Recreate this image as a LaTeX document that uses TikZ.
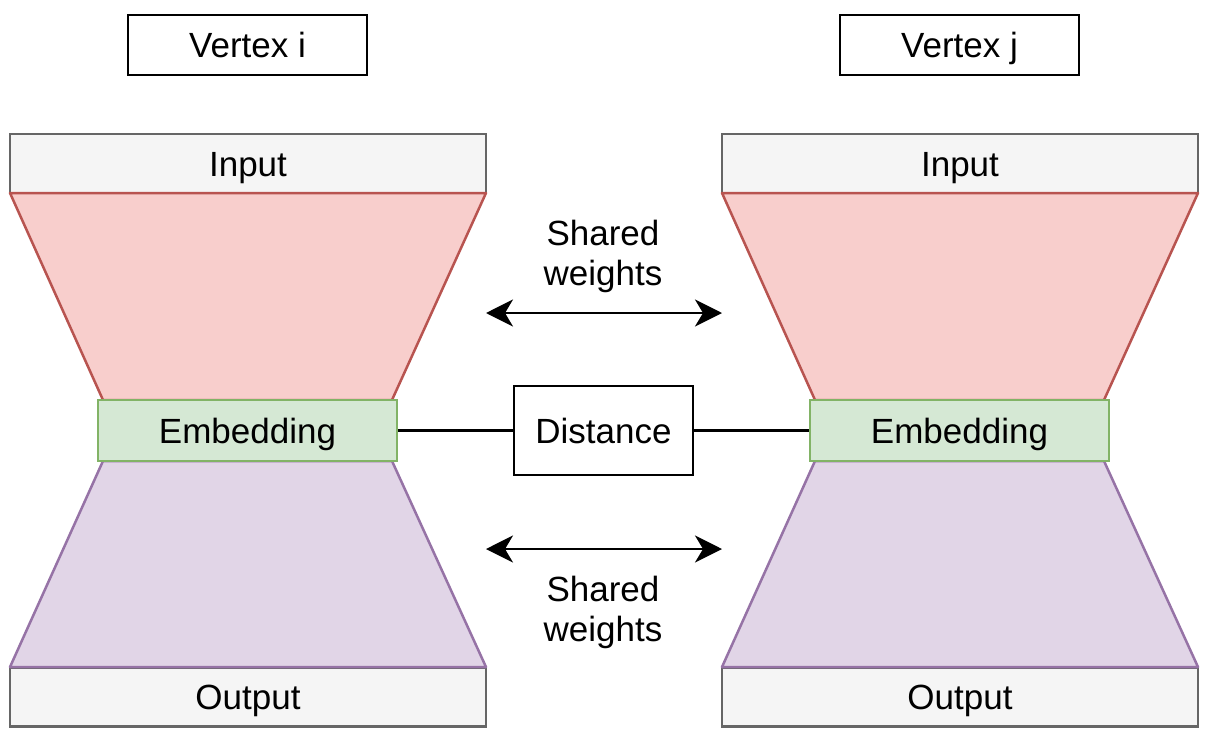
\documentclass[tikz,border=0pt]{standalone}
\usepackage{fontspec}
\setmainfont{Liberation Sans}
\usetikzlibrary{arrows.meta}
\definecolor{redfill}{HTML}{F8CECC}
\definecolor{redline}{HTML}{B85450}
\definecolor{greenfill}{HTML}{D5E8D4}
\definecolor{greenline}{HTML}{82B366}
\definecolor{purpfill}{HTML}{E1D5E7}
\definecolor{purpline}{HTML}{9673A6}
\definecolor{grayfill}{HTML}{F5F5F5}
\definecolor{grayline}{HTML}{666666}
\tikzset{
  lbl/.style={font=\fontsize{35}{40}\selectfont},
  one/.style={lbl, text height=25pt, text depth=0pt, inner sep=0pt},
  vbox/.style={one, draw=black, line width=2.5pt, minimum width=239pt, minimum height=60pt},
  iobox/.style={one, draw=grayline, fill=grayfill, line width=2.5pt, minimum width=476pt, minimum height=59pt},
  embbox/.style={one, draw=greenline, fill=greenfill, line width=2.5pt, minimum width=299pt, minimum height=61pt},
  distbox/.style={one, draw=black, line width=2.5pt, minimum width=179pt, minimum height=89pt},
  redtrap/.style={draw=redline, fill=redfill, line width=2.5pt, line join=round},
  purptrap/.style={draw=purpline, fill=purpfill, line width=2.5pt, line join=round},
  conn/.style={draw=black, line width=2.5pt},
  dbl/.style={conn, {Stealth[length=27pt,width=27pt,inset=8pt]}-{Stealth[length=27pt,width=27pt,inset=8pt]}},
  txt/.style={lbl, align=center, inner sep=0pt}
}
\begin{document}
\begin{tikzpicture}[x=1pt,y=-1pt]
\useasboundingbox (0,0) rectangle (1210,739);
% left column
\node[vbox] (vi) at (247.5,45) {Vertex i};
\node[iobox] (ini) at (248,163.5) {Input};
\node[iobox] (outi) at (248,697) {Output};
\draw[redtrap] (10,193) -- (486,193) -- (392,400) -- (103,400) -- cycle;
\draw[purptrap] (103,461) -- (392,461) -- (486,667) -- (10,667) -- cycle;
\node[embbox] (embi) at (247.5,430.5) {Embedding};
% right column
\node[vbox] (vj) at (959.5,45) {Vertex j};
\node[iobox] (inj) at (960,163.5) {Input};
\node[iobox] (outj) at (960,697) {Output};
\draw[redtrap] (722,193) -- (1198,193) -- (1104,400) -- (815,400) -- cycle;
\draw[purptrap] (815,461) -- (1104,461) -- (1198,667) -- (722,667) -- cycle;
\node[embbox] (embj) at (959.5,430.5) {Embedding};
% middle
\node[distbox] (dist) at (603.5,430.5) {Distance};
\draw[conn] (embi.east) -- (dist.west);
\draw[conn] (dist.east) -- (embj.east -| embj.west);
\coordinate (a1l) at (486,313);
\coordinate (a1r) at (722,313);
\coordinate (a2l) at (486,549);
\coordinate (a2r) at (722,549);
\draw[dbl] (a1l) -- (a1r);
\draw[dbl] (a2l) -- (a2r);
\node[txt] (sw1) at (603,256) {Shared\\weights};
\node[txt] (sw2) at (603,612) {Shared\\weights};
\end{tikzpicture}
\end{document}
